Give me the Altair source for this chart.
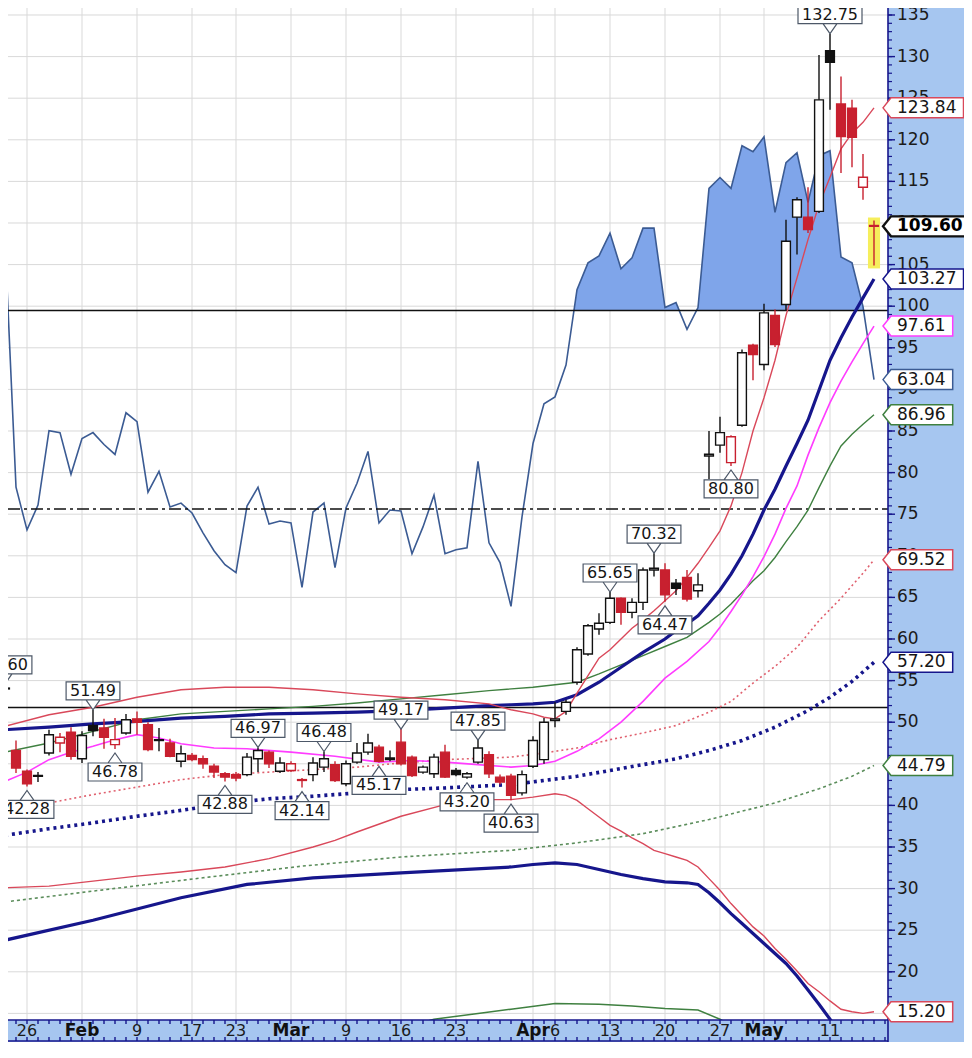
import altair as alt
import pandas as pd

# ---------------- values ----------------
# trading-day index of every candle (0 = Jan 26)
candle_idx = list(range(-2, 78))
opens = [54.0, 46.6, 44.1, 43.6, 46.3, 47.5, 48.8, 45.6, 49.6, 49.3,
         47.3, 48.7, 50.4, 49.7, 47.8, 47.5, 45.3, 46.0, 45.6, 44.7,
         43.8, 43.7, 43.7, 45.6, 46.4, 44.1, 44.2, 43.1, 43.7, 44.6,
         44.9, 42.6, 45.2, 46.4, 47.0, 45.7, 47.6, 45.8, 44.0, 43.8,
         46.4, 44.2, 43.4, 45.2, 46.1, 43.4, 43.5, 41.5, 44.7, 45.5,
         50.2, 51.3, 54.8, 58.2, 61.2, 62.0, 64.9, 63.2, 64.4, 68.3,
         68.3, 66.7, 67.4, 65.8, 82.0, 83.3, 81.2, 85.7, 95.3, 93.0,
         98.9, 100.2, 110.7, 110.7, 111.4, 130.7, 124.3, 123.8, 114.3, 109.7]
highs = [54.60, 47.8, 44.3, 44.0, 49.1, 48.7, 49.4, 48.9, 51.49, 50.4,
         50.5, 51.0, 51.3, 50.0, 49.3, 48.0, 47.2, 46.3, 46.0, 45.0,
         44.0, 44.0, 46.3, 46.97, 46.6, 45.8, 45.3, 43.3, 45.8, 46.48,
         45.3, 45.4, 47.5, 48.6, 47.3, 46.6, 49.17, 46.0, 44.8, 46.2,
         47.3, 44.5, 44.0, 47.85, 46.5, 43.7, 43.8, 44.2, 48.3, 50.5,
         52.4, 52.7, 59.0, 61.8, 63.1, 65.65, 65.0, 64.9, 68.6, 70.32,
         69.1, 67.2, 68.3, 67.9, 85.0, 86.7, 84.5, 94.8, 95.5, 100.3,
         99.6, 110.4, 113.1, 114.3, 130.2, 132.75, 127.6, 124.8, 118.3, 110.3]
lows = [53.4, 43.9, 42.28, 42.8, 46.0, 46.4, 45.5, 45.1, 48.3, 46.8,
        46.78, 48.5, 48.5, 46.5, 46.5, 45.8, 44.6, 45.3, 44.4, 43.3,
        42.88, 42.9, 43.5, 44.0, 44.5, 43.9, 44.0, 42.14, 42.9, 44.0,
        42.8, 42.3, 45.0, 46.1, 45.17, 45.3, 44.8, 43.4, 43.8, 43.3,
        43.3, 43.5, 43.20, 45.0, 43.3, 42.5, 40.63, 41.2, 44.5, 45.0,
        49.4, 50.9, 54.5, 58.0, 60.5, 61.8, 61.7, 62.5, 63.5, 67.5,
        64.47, 65.3, 64.5, 65.0, 79.2, 82.4, 80.80, 85.5, 91.1, 92.3,
        95.1, 99.5, 106.2, 108.8, 111.2, 123.6, 116.0, 116.7, 112.8, 104.9]
closes = [54.1, 44.5, 42.6, 43.5, 48.5, 48.2, 45.9, 48.4, 49.0, 48.2,
          47.9, 50.3, 50.0, 46.7, 47.9, 45.9, 46.2, 45.5, 45.0, 44.0,
          43.4, 43.3, 45.8, 46.6, 45.0, 45.1, 45.0, 43.0, 45.1, 45.6,
          43.0, 45.0, 46.3, 47.5, 45.3, 45.5, 45.0, 43.6, 44.6, 45.8,
          43.4, 43.7, 43.8, 46.9, 43.8, 42.8, 41.2, 43.7, 47.8, 50.0,
          50.4, 52.4, 58.7, 61.6, 61.9, 64.9, 63.2, 64.4, 68.3, 68.5,
          65.3, 66.1, 64.8, 66.5, 82.2, 84.8, 84.3, 94.4, 94.2, 99.2,
          95.4, 107.8, 112.8, 109.2, 124.8, 129.3, 120.4, 120.3, 115.5, 109.6]

# RSI(14), one value per candle
rsi_values = [76.9, 52.2, 47.9, 50.4, 57.9, 57.7, 53.5, 57.1, 57.7, 56.5,
              55.5, 59.7, 58.8, 51.7, 53.8, 50.2, 50.6, 49.6, 47.6, 45.8,
              44.4, 43.6, 50.3, 52.2, 48.5, 48.8, 48.6, 42.1, 49.7, 50.6,
              44.1, 50.1, 52.6, 55.8, 48.6, 49.9, 49.8, 45.5, 48.2, 51.4,
              45.5, 45.9, 46.1, 54.8, 46.6, 44.6, 40.2, 49.2, 56.6, 60.6,
              61.3, 64.5, 72.1, 74.8, 75.5, 77.8, 74.2, 75.3, 78.3, 78.3,
              70.3, 70.8, 68.1, 70.3, 82.3, 83.4, 82.3, 86.6, 86.0, 87.5,
              79.9, 84.9, 85.9, 80.9, 85.6, 86.1, 75.4, 74.8, 70.4, 63.04]
rsi_levels_solid = [70, 30]
rsi_levels_dash = [50]

# date axis
tick_idx = [0, 5, 10, 15, 19, 24, 29, 34, 39, 46, 48, 53, 58, 63, 67, 73]
tick_lbl = ["26", "Feb", "9", "17", "23", "Mar", "9", "16", "23", "Apr", "6",
            "13", "20", "27", "May", "11"]
months = ["Feb", "Mar", "Apr", "May"]
price_ticks = list(range(15, 136, 5))
minor_ticks = list(range(15, 136))

# peak / trough annotations (candle index)
peak_idx = [-2, 6, 21, 27, 34, 41, 53, 57, 73]
trough_idx = [0, 8, 18, 25, 32, 40, 44, 58, 64]

# overlays
red_up_i = [-2, 2, 6, 10, 14, 18, 22, 26, 30, 34, 38, 42, 44, 46, 47, 48, 49,
            50, 51, 52, 53, 54, 55, 56, 57, 58, 59, 60, 61, 62, 63, 64, 65, 66,
            67, 68, 69, 70, 71, 72, 73, 74, 75, 76, 77]
red_up_v = [49.5, 50.9, 51.8, 53.0, 53.9, 54.2, 54.2, 53.9, 53.4, 53.0, 52.7, 52.2,
            51.5, 51.0, 50.6, 50.4, 51.3,
            53.5, 55.6, 57.7, 58.7, 60.0, 61.3, 62.3, 63.4, 64.6, 65.8, 67.4, 69.1,
            71.0, 73.0, 76.0, 80.0, 85.0, 89.0, 93.5, 98.9, 103.4, 108.0, 112.2,
            115.5, 118.9, 120.8, 122.1, 123.84]
red_mid_i = [-2, 2, 6, 10, 14, 18, 22, 26, 30, 34, 38, 42, 44, 47, 50, 53, 56, 59,
             62, 64, 66, 68, 70, 72, 74, 76, 77]
red_mid_v = [39.7, 40.3, 41.3, 42.2, 43.1, 43.7, 44.0, 44.3, 44.6, 45.1, 45.5, 45.7,
             45.8, 46.3, 46.9, 47.9, 48.7, 49.6,
             51.2, 52.5, 54.7, 56.7, 59.0, 62.2, 64.9, 67.9, 69.52]
red_low_i = [-2, 2, 6, 10, 14, 18, 22, 26, 28, 30, 34, 38, 40, 42, 44, 46, 48,
             49, 50, 51, 52, 53, 54, 55, 56, 57, 58, 59, 60, 61, 62, 63, 64, 65,
             66, 67, 68, 69, 70, 71, 72, 73, 74, 75, 76, 77]
red_low_v = [30.1, 30.3, 30.9, 31.5, 32.0, 32.6, 33.6, 35.0,
             35.8, 36.8, 38.7, 40.1, 40.5, 40.7, 40.7, 41.0, 41.4,
             41.2, 40.6, 39.6, 38.6, 37.6, 36.9, 36.1, 35.4, 34.6, 34.2, 33.8,
             33.4, 32.6, 31.2, 29.8, 28.2, 26.8, 25.4, 24.3, 22.8, 21.5, 20.1,
             18.6, 17.6, 16.5, 15.5, 15.2, 15.0, 15.20]
navy_up_i = [-2, 2, 6, 10, 14, 18, 22, 26, 30, 34, 38, 42, 44, 46, 48, 50, 52, 54,
             56, 58, 59, 60, 61, 62, 63, 64, 65, 66, 67, 68, 69, 70, 71, 72, 73,
             74, 75, 76, 77]
navy_up_v = [49.1, 49.4, 49.8, 50.1, 50.5, 50.7, 51.0, 51.1, 51.2, 51.4, 51.7, 52.0,
             52.1, 52.2, 52.4, 53.3, 54.8, 56.6, 58.4, 60.0,
             61.0, 61.8, 62.8, 64.3, 65.9, 67.8, 70.0, 72.6, 75.5, 78.0, 80.8,
             83.5, 86.3, 89.9, 93.5, 96.2, 98.7, 101.0, 103.27]
navy_mid_i = [-2, 2, 6, 10, 14, 18, 22, 26, 30, 34, 38, 41, 44, 47, 50, 53, 56, 59,
              62, 65, 68, 71, 73, 75, 77]
navy_mid_v = [36.4, 37.2, 37.9, 38.7, 39.4, 40.2, 40.8, 41.1, 41.5, 41.9, 42.1, 42.3,
              42.5, 43.0, 43.5, 44.2, 44.9, 45.6, 46.6, 47.8, 49.4, 51.4, 53.0, 54.9,
              57.20]
navy_low_i = [-2, 6, 14, 20, 26, 34, 40, 44, 46, 48, 50, 52, 54, 56, 58, 60,
              61, 62, 63, 64, 65, 66, 67, 68, 69, 70, 71, 72, 73, 74]
navy_low_v = [23.8, 26.2, 28.9, 30.5, 31.3, 31.9, 32.3,
              32.6, 32.9, 33.1, 32.9, 32.3, 31.7, 31.2, 30.8, 30.7,
              30.5, 29.5, 28.3, 27.0, 25.8, 24.6, 23.4, 22.2, 21.0, 19.5, 17.8,
              16.1, 14.3, 12.5]
green_up_i = [-2, 2, 6, 10, 14, 18, 22, 26, 30, 34, 38, 42, 46, 48, 50, 52, 54, 56,
              58, 60, 62, 63, 64, 65, 66, 67, 68, 69, 70, 71, 72, 73, 74, 75, 76, 77]
green_up_v = [46.4, 47.5, 48.9, 50.3, 51.0, 51.3, 51.6, 51.9, 52.3, 52.8, 53.3, 53.8,
              54.2, 54.5, 54.8, 55.8, 56.9, 58.0, 59.1, 60.2,
              62.0, 63.0, 64.2, 65.6, 67.0, 68.2, 69.8, 71.7, 73.5, 75.5, 78.2,
              80.8, 83.2, 84.6, 85.8, 86.96]
green_mid_i = [-2, 6, 16, 25, 34, 44, 50, 56, 62, 68, 72, 75, 77]
green_mid_v = [28.4, 29.7, 31.3, 32.7, 33.8, 34.6, 35.5, 36.6, 38.3, 40.3, 42.0,
               43.5, 44.79]
green_low_i = [34, 37, 41, 44, 48, 52, 55, 58, 61, 63, 65]
green_low_v = [13.2, 14.3, 15.0, 15.5, 16.2, 16.1, 15.9, 15.6, 15.4, 14.3, 12.8]
magenta_i = [-2, 0, 2, 4, 6, 8, 10, 12, 14, 17, 20, 24, 28, 32, 35, 38, 41, 44,
             46, 48, 50, 52, 54, 56, 58, 60, 62, 63, 64, 65, 66, 67, 68, 69, 70,
             71, 72, 73, 74, 75, 76, 77]
magenta_v = [42.9, 44.0, 45.5, 46.4, 47.1, 47.9, 48.5, 48.1, 47.4,
             46.9, 46.8, 46.4, 45.9, 45.2, 45.4, 45.2, 44.9, 44.6,
             44.8, 45.3, 46.5, 48.0, 50.0, 52.5, 55.3, 57.3, 59.7,
             61.4, 63.3, 65.3, 67.5, 69.9, 72.6, 75.7, 78.4, 82.1, 85.4, 88.4,
             91.0, 93.3, 95.5, 97.61]

# ---------------- styling / layout ----------------
FONT = "DejaVu Sans"
BG = "#a6c6f0"
GRID = "#d9d9d9"
RED_C = "#c8202f"
BLACK_C = "#111111"
RED_L = "#d9485a"
NAVY = "#16168c"
GREEN = "#3f8040"
MAGENTA = "#ff3cff"
RSI_LINE = "#3b5b93"
RSI_FILL = "#7fa5ea"
TAG = "#4d5868"

W, H = 880, 1012
xs = alt.Scale(domain=[-1.7273, 78.2727], nice=False, zero=False)
ys = alt.Scale(domain=[14.207, 135.841], nice=False, zero=False)
# RSI drawn in the price panel: RSI 50 sits at price 75.62, 1 RSI point = 1.193
RSI50, RSIK = 75.62, 1.193


def X(f):
    return alt.X(f, scale=xs, axis=None)


def Y(f):
    return alt.Y(f, scale=ys, axis=None)


def tw(s, size):
    return size * sum(0.636 if ch.isdigit() else 0.318 for ch in s)


one = pd.DataFrame({"k": [0]})
layers = []

# grid
layers.append(alt.Chart(pd.DataFrame({"p": price_ticks})).mark_rule(color=GRID, strokeWidth=1).encode(
    x=alt.value(0), x2=alt.value(W), y=Y("p:Q")))
layers.append(alt.Chart(pd.DataFrame({"i": tick_idx})).mark_rule(color=GRID, strokeWidth=1).encode(
    x=X("i:Q"), y=alt.value(0), y2=alt.value(H)))

# RSI fill above 70 (polygon edge follows the RSI line and its crossings of 70)
fi, fr = [], []
for k in range(len(candle_idx)):
    i0, r0 = candle_idx[k], rsi_values[k]
    fi.append(i0)
    fr.append(max(r0, 70))
    if k + 1 < len(candle_idx):
        i1, r1 = candle_idx[k + 1], rsi_values[k + 1]
        if (r0 - 70) * (r1 - 70) < 0:
            t = (70 - r0) / (r1 - r0)
            fi.append(i0 + t * (i1 - i0))
            fr.append(70)
layers.append(alt.Chart(pd.DataFrame({"i": fi, "r": fr})).transform_calculate(
    top=f"{RSI50} + (datum.r - 50) * {RSIK}", base=f"{RSI50} + 20 * {RSIK}"
).mark_area(color=RSI_FILL, opacity=1, clip=True).encode(
    x=X("i:Q"), y=Y("top:Q"), y2="base:Q"))

rsi_df = pd.DataFrame({"i": candle_idx, "r": rsi_values})
layers.append(alt.Chart(rsi_df).transform_calculate(
    p=f"{RSI50} + (datum.r - 50) * {RSIK}"
).mark_line(color=RSI_LINE, strokeWidth=1.6, clip=True).encode(x=X("i:Q"), y=Y("p:Q")))

layers.append(alt.Chart(pd.DataFrame({"r": rsi_levels_solid})).transform_calculate(
    p=f"{RSI50} + (datum.r - 50) * {RSIK}"
).mark_rule(color="#111111", strokeWidth=1.6).encode(x=alt.value(0), x2=alt.value(W), y=Y("p:Q")))
layers.append(alt.Chart(pd.DataFrame({"r": rsi_levels_dash})).transform_calculate(
    p=f"{RSI50} + (datum.r - 50) * {RSIK}"
).mark_rule(color="#111111", strokeWidth=1.6, strokeDash=[12, 4, 3, 4]).encode(
    x=alt.value(0), x2=alt.value(W), y=Y("p:Q")))


def line_layer(idx, vals, color, width, dash=None):
    kw = dict(color=color, strokeWidth=width, clip=True)
    if dash:
        kw["strokeDash"] = dash
    return alt.Chart(pd.DataFrame({"i": idx, "v": vals})).mark_line(**kw).encode(
        x=X("i:Q"), y=Y("v:Q"))


layers += [
    line_layer(green_low_i, green_low_v, GREEN, 1.5),
    line_layer(green_mid_i, green_mid_v, "#5b8d5b", 1.6, [3, 3]),
    line_layer(green_up_i, green_up_v, GREEN, 1.4),
    line_layer(navy_low_i, navy_low_v, NAVY, 3.2),
    line_layer(navy_mid_i, navy_mid_v, NAVY, 3.6, [3, 4]),
    line_layer(navy_up_i, navy_up_v, NAVY, 3.2),
    line_layer(red_low_i, red_low_v, RED_L, 1.4),
    line_layer(red_mid_i, red_mid_v, "#e0606e", 1.6, [2, 3]),
    line_layer(red_up_i, red_up_v, RED_L, 1.4),
    line_layer(magenta_i, magenta_v, MAGENTA, 1.6),
]

# candles
cd = pd.DataFrame({"i": candle_idx, "o": opens, "h": highs, "l": lows, "c": closes})
prev = cd["c"].shift(1).fillna(cd["o"])
cd["col"] = [BLACK_C if c >= p else RED_C for c, p in zip(cd["c"], prev)]
cd["fill"] = ["white" if c > o else col for c, o, col in zip(cd["c"], cd["o"], cd["col"])]

last = cd.tail(1)
layers.append(alt.Chart(last).transform_calculate(
    x1="datum.i - 0.55", x2="datum.i + 0.55"
).mark_rect(fill="#f6ee5c", yOffset=-3, y2Offset=3).encode(
    x=X("x1:Q"), x2="x2:Q", y=Y("h:Q"), y2="l:Q"))

layers.append(alt.Chart(cd).mark_rule(strokeWidth=1.4, clip=True).encode(
    x=X("i:Q"), y=Y("l:Q"), y2="h:Q", color=alt.Color("col:N", scale=None)))
layers.append(alt.Chart(cd).transform_calculate(
    x1="datum.i - 0.4", x2="datum.i + 0.4"
).mark_rect(strokeWidth=1.4, clip=True).encode(
    x=X("x1:Q"), x2="x2:Q", y=Y("o:Q"), y2="c:Q",
    fill=alt.Fill("fill:N", scale=None), stroke=alt.Stroke("col:N", scale=None)))

# peak / trough tags
pk = cd[cd["i"].isin(peak_idx)][["i", "h"]].rename(columns={"h": "v"}).copy()
pk["t"] = [f"{v:.2f}" for v in pk["v"]]
pk["shp"] = [
    (lambda h: f"M {-h:.1f} -28 L {h:.1f} -28 L {h:.1f} -10 L {-h:.1f} -10 Z M -7 -10 L 0 0 L 7 -10")(tw(t, 16) / 2 + 4)
    for t in pk["t"]]
tr = cd[cd["i"].isin(trough_idx)][["i", "l"]].rename(columns={"l": "v"}).copy()
tr["t"] = [f"{v:.2f}" for v in tr["v"]]
tr["shp"] = [
    (lambda h: f"M {-h:.1f} 14 L {h:.1f} 14 L {h:.1f} 32 L {-h:.1f} 32 Z M -7 14 L 0 4 L 7 14")(tw(t, 16) / 2 + 4)
    for t in tr["t"]]
for df, dy in ((pk, -19), (tr, 23)):
    layers.append(alt.Chart(df).mark_point(
        filled=True, fill="white", stroke=TAG, strokeWidth=1.2, size=4, opacity=1
    ).encode(x=X("i:Q"), y=Y("v:Q"), shape=alt.Shape("shp:N", scale=None)))
    layers.append(alt.Chart(df).mark_text(
        font=FONT, fontSize=16, color="#161616", dy=dy, baseline="middle", align="center"
    ).encode(x=X("i:Q"), y=Y("v:Q"), text="t:N"))

# date strip
layers.append(alt.Chart(one).mark_rule(color=NAVY, strokeWidth=1.5).encode(
    x=alt.value(0), x2=alt.value(W), y=alt.value(H)))
layers.append(alt.Chart(one).mark_rule(color=NAVY, strokeWidth=1.5).encode(
    x=alt.value(0), x2=alt.value(W), y=alt.value(H + 21)))
layers.append(alt.Chart(one).mark_rule(color=NAVY, strokeWidth=1.6).encode(
    x=alt.value(W), y=alt.value(0), y2=alt.value(H + 22)))
days = pd.DataFrame({"i": list(range(-1, 79))})
layers.append(alt.Chart(days).mark_rule(color=NAVY, strokeWidth=1.4).encode(
    x=X("i:Q"), y=alt.value(H), y2=alt.value(H + 4)))
layers.append(alt.Chart(days).mark_rule(color=NAVY, strokeWidth=1.4).encode(
    x=X("i:Q"), y=alt.value(H + 17), y2=alt.value(H + 21)))
tl = pd.DataFrame({"i": tick_idx, "t": tick_lbl})
tl["m"] = tl["t"].isin(months)
layers.append(alt.Chart(tl[~tl["m"]]).mark_text(
    font=FONT, fontSize=16, color="#1b1b1b", baseline="middle", align="center"
).encode(x=X("i:Q"), y=alt.value(H + 11), text="t:N"))
layers.append(alt.Chart(tl[tl["m"]]).mark_text(
    font=FONT, fontSize=17, fontWeight="bold", color="#111111", baseline="middle", align="center"
).encode(x=X("i:Q"), y=alt.value(H + 11), text="t:N"))

# price scale on the right: minor ticks, major ticks, labels
layers.append(alt.Chart(pd.DataFrame({"p": minor_ticks})).mark_rule(color=NAVY, strokeWidth=1.2).encode(
    x=alt.value(W), x2=alt.value(W + 4), y=Y("p:Q")))
pt = pd.DataFrame({"p": price_ticks, "t": [str(v) for v in price_ticks]})
layers.append(alt.Chart(pt).mark_rule(color=NAVY, strokeWidth=1.4).encode(
    x=alt.value(W), x2=alt.value(W + 7), y=Y("p:Q")))
layers.append(alt.Chart(pt).mark_text(
    font=FONT, fontSize=17, color="#1b1b1b", align="left", baseline="middle"
).encode(x=alt.value(W + 9), y=Y("p:Q"), text="t:N"))

# right-hand value tags
rsi_last_price = RSI50 + (rsi_values[-1] - 50) * RSIK
tag_vals = [red_up_v[-1], navy_up_v[-1], magenta_v[-1], rsi_values[-1], green_up_v[-1],
            red_mid_v[-1], navy_mid_v[-1], green_mid_v[-1], red_low_v[-1]]
tags = pd.DataFrame({
    "v": [red_up_v[-1], navy_up_v[-1], magenta_v[-1], rsi_last_price, green_up_v[-1],
          red_mid_v[-1], navy_mid_v[-1], green_mid_v[-1], red_low_v[-1]],
    "t": [f"{x:.2f}" for x in tag_vals],
    "col": [RED_L, NAVY, MAGENTA, RSI_LINE, GREEN, RED_L, NAVY, GREEN, RED_L],
})
tags["shp"] = [
    (lambda w: f"M 0 0 L 8 -10 L {8 + w:.1f} -10 L {8 + w:.1f} 10 L 8 10 Z")(tw(t, 17) + 13)
    for t in tags["t"]]
layers.append(alt.Chart(tags).mark_point(
    filled=True, fill="white", strokeWidth=1.5, size=4, opacity=1
).encode(x=alt.value(W - 5), y=Y("v:Q"), shape=alt.Shape("shp:N", scale=None),
         stroke=alt.Stroke("col:N", scale=None)))
layers.append(alt.Chart(tags).mark_text(
    font=FONT, fontSize=17, color="#161616", align="left", baseline="middle"
).encode(x=alt.value(W + 9), y=Y("v:Q"), text="t:N"))

lp = pd.DataFrame({"v": [closes[-1]], "t": [f"{closes[-1]:.2f}"]})
lp["shp"] = [f"M 0 0 L 8 -10 L {8 + tw(t, 17) * 1.08 + 13:.1f} -10 L {8 + tw(t, 17) * 1.08 + 13:.1f} 10 L 8 10 Z"
             for t in lp["t"]]
layers.append(alt.Chart(lp).mark_point(
    filled=True, fill="white", stroke="#111111", strokeWidth=2.4, size=4, opacity=1
).encode(x=alt.value(W - 5), y=Y("v:Q"), shape=alt.Shape("shp:N", scale=None)))
layers.append(alt.Chart(lp).mark_text(
    font=FONT, fontSize=17, fontWeight="bold", color="#000000", align="left", baseline="middle"
).encode(x=alt.value(W + 9), y=Y("v:Q"), text="t:N"))

chart = alt.layer(*layers).properties(
    width=W, height=H,
    autosize=alt.AutoSizeParams(type="none"),
    padding={"left": 0, "top": 0, "right": 76, "bottom": 22},
    background=BG,
).configure_view(fill="white", stroke=None)

chart.save("out.html", embed_options={"renderer": "svg", "actions": False})
